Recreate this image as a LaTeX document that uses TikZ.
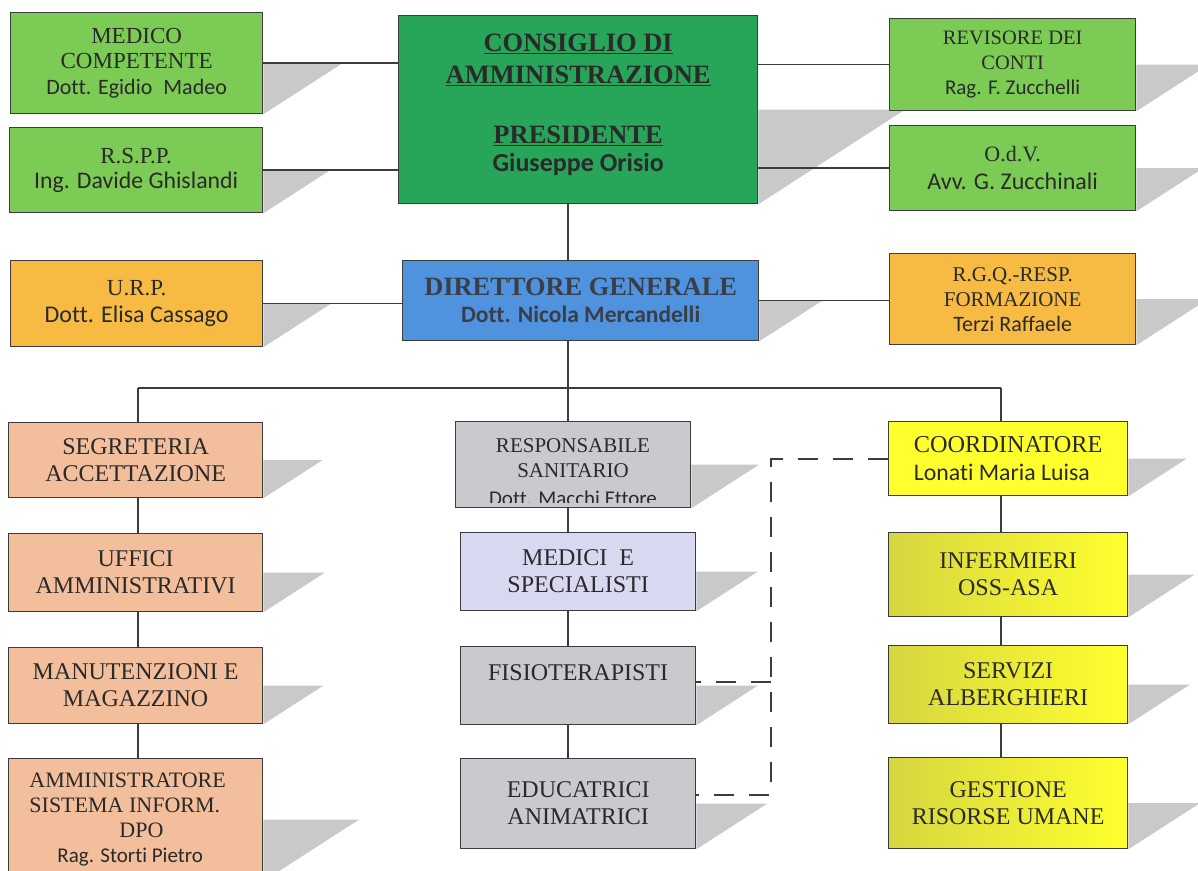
\documentclass[tikz,border=0pt]{standalone}
\usepackage{fontspec}
\setmainfont{Liberation Serif}
\newfontfamily\sansf[Ligatures={NoCommon}]{Carlito}
\usetikzlibrary{calc}
\pgfdeclarelayer{shadowlayer}
\pgfdeclarelayer{linelayer}
\pgfsetlayers{shadowlayer,linelayer,main}
\definecolor{linec}{HTML}{3C3C3C}
\definecolor{textc}{HTML}{2A2A2A}
\definecolor{shadowc}{HTML}{C9C9C9}
\definecolor{greenA}{HTML}{7CCB55}
\definecolor{greenB}{HTML}{27A65A}
\definecolor{orangeA}{HTML}{F7BA42}
\definecolor{blueA}{HTML}{4F92DE}
\definecolor{peachA}{HTML}{F2BE9C}
\definecolor{grayA}{HTML}{C9C9CE}
\definecolor{lavA}{HTML}{D8D8F0}
\definecolor{yelA}{HTML}{FFFF2E}
\definecolor{yelB}{HTML}{D6D640}
\definecolor{dgtext}{HTML}{3A3E48}
\newcommand\srz[2]{\fontsize{#1}{#2}\selectfont}
\newcommand\snf[1]{\sansf\fontsize{#1}{#1}\selectfont}
\newcommand\orgnode[7]{\node[orgbox,#6,minimum width={#4-#2},minimum height={#5-#3}] (#1) at (#2,#3) {#7};}
\newcommand\shd[1]{\fill[shadowc] let \p1=(#1.east), \p2=(#1.south east) in (\p1) -- ++({1.55*(\y1-\y2)},0pt) -- (\p2) -- cycle;}
\tikzset{
  orgbox/.style={draw=linec, line width=1.3pt, inner sep=0pt, align=center, text=textc, anchor=north west, font=\srz{24}{27}},
  boxtext/.style={inner sep=0pt, align=center, text=textc},
  yshade/.style={left color=yelB, right color=yelA},
  conn/.style={draw=linec, line width=1.6pt},
  dconn/.style={draw=linec, line width=1.8pt, dash pattern=on 20pt off 15pt},
}
\begin{document}
\begin{tikzpicture}[x=1pt,y=-1pt]
\useasboundingbox (0,0) rectangle (1198,870);
% top row
\orgnode{medico}{10}{12}{262}{113}{fill=greenA,font=\srz{23}{25.5}}{MEDICO\\COMPETENTE\\{\snf{22}Dott. Egidio\enspace Madeo}}
\orgnode{rspp}{9}{127}{262}{212}{fill=greenA,font=\srz{23}{25}}{R.S.P.P.\\{\snf{23.8}Ing. Davide Ghislandi}}
\orgnode{cda}{398}{15}{757}{203}{fill=greenB}{}
\node[boxtext, font=\bfseries\srz{26.5}{32}] (cdatext) at ($(cda.center)+(0,-5)$) {\underline{CONSIGLIO DI}\\\underline{AMMINISTRAZIONE}\\[28pt]\underline{PRESIDENTE}\\[-4pt]{\snf{26}\bfseries Giuseppe Orisio}};
\orgnode{revisore}{889}{18}{1135}{110}{fill=greenA,font=\srz{20.5}{25}}{REVISORE DEI\\CONTI\\{\snf{21}Rag. F. Zucchelli}}
\orgnode{odv}{889}{125}{1135}{210}{fill=greenA,font=\srz{22}{28}}{O.d.V.\\{\snf{24}Avv. G. Zucchinali}}
% second row
\orgnode{urp}{10}{260}{262}{346}{fill=orangeA,font=\srz{23}{27}}{U.R.P.\\{\snf{24}Dott. Elisa Cassago}}
\orgnode{dg}{402}{260}{758}{340}{fill=blueA,text=dgtext}{{\bfseries\srz{26.4}{27}DIRETTORE GENERALE}\\{\snf{23.5}\bfseries Dott. Nicola Mercandelli}}
\orgnode{rgq}{889}{253}{1135}{344}{fill=orangeA,font=\srz{21}{25}}{R.G.Q.-RESP.\\FORMAZIONE\\{\snf{22}Terzi Raffaele}}
% left column
\orgnode{segr}{8}{422}{262}{497}{fill=peachA}{SEGRETERIA\\ACCETTAZIONE}
\orgnode{uffici}{8}{533}{262}{611}{fill=peachA}{UFFICI\\AMMINISTRATIVI}
\orgnode{manut}{8}{647}{262}{723}{fill=peachA}{MANUTENZIONI E\\MAGAZZINO}
\orgnode{ammin}{8}{758}{262}{880}{fill=peachA,align=left,font=\srz{22}{25}}{AMMINISTRATORE\rule{16pt}{0pt}\\SISTEMA INFORM.\\\hspace*{90pt}DPO\\\hspace*{28pt}{\snf{21}Rag. Storti Pietro}}
% middle column
\orgnode{resp}{455}{421}{690}{507}{fill=grayA}{}
\begin{scope}
\clip (455,421) rectangle (690,502);
\node[boxtext, font=\srz{21}{25}, anchor=north] (resptext) at (573,438) {RESPONSABILE\\SANITARIO\\[3pt]{\snf{21}Dott. Macchi Ettore}};
\end{scope}
\orgnode{medici}{460}{532}{695}{610}{fill=lavA}{MEDICI\enspace E\\SPECIALISTI}
\orgnode{fisio}{460}{646}{695}{724}{fill=grayA}{FISIOTERAPISTI\\\mbox{}}
\orgnode{edu}{460}{758}{695}{848}{fill=grayA}{EDUCATRICI\\ANIMATRICI}
% right column
\orgnode{coord}{888}{421}{1127}{495}{fill=yelA,align=left,font=\srz{24.3}{28}}{COORDINATORE\\{\snf{23.8}Lonati Maria Luisa}}
\orgnode{inferm}{888}{532}{1127}{616}{yshade}{INFERMIERI\\OSS-ASA}
\orgnode{servizi}{888}{645}{1127}{723}{yshade}{SERVIZI\\ALBERGHIERI}
\orgnode{gestione}{888}{757}{1127}{848}{yshade}{GESTIONE\\RISORSE UMANE}
% coordinates
\coordinate (spine) at (568,0);
\coordinate (busl) at (138,388);
\coordinate (busm) at (568,388);
\coordinate (busr) at (1001,388);
\coordinate (dj) at (771,0);
\coordinate (dfis) at (771,682);
\coordinate (dedu) at (771,795);
% shadows
\begin{pgfonlayer}{shadowlayer}
\foreach \bx in {medico,rspp,cda,revisore,odv,urp,dg,rgq,segr,uffici,manut,ammin,resp,medici,fisio,edu,coord,inferm,servizi,gestione}{\shd{\bx}}
\end{pgfonlayer}
% connectors
\begin{pgfonlayer}{linelayer}
\draw[conn] (medico.east) -- (medico.east -| cda.west);
\draw[conn] (rspp.east) -- (rspp.east -| cda.west);
\draw[conn] (revisore.west) -- (revisore.west -| cda.east);
\draw[conn] (odv.west) -- (odv.west -| cda.east);
\draw[conn] (cda.south -| spine) -- (dg.north -| spine);
\draw[conn] (urp.east) -- (urp.east -| dg.west);
\draw[conn] (dg.east) -- (dg.east -| rgq.west);
\draw[conn] (dg.south -| spine) -- (busm);
\draw[conn] (busl) -- (busr);
\draw[conn] (busl) -- (segr.north -| busl);
\draw[conn] (busm) -- (resp.north -| busm);
\draw[conn] (busr) -- (coord.north -| busr);
\draw[conn] (segr.south -| busl) -- (uffici.north -| busl);
\draw[conn] (uffici.south -| busl) -- (manut.north -| busl);
\draw[conn] (manut.south -| busl) -- (ammin.north -| busl);
\draw[conn] (resp.south -| busm) -- (medici.north -| busm);
\draw[conn] (medici.south -| busm) -- (fisio.north -| busm);
\draw[conn] (fisio.south -| busm) -- (edu.north -| busm);
\draw[conn] (coord.south -| busr) -- (inferm.north -| busr);
\draw[conn] (inferm.south -| busr) -- (servizi.north -| busr);
\draw[conn] (servizi.south -| busr) -- (gestione.north -| busr);
\draw[dconn] (coord.west) -- (coord.west -| dj) -- (dedu) -- (dedu -| edu.east);
\draw[dconn] (dfis) -- (dfis -| fisio.east);
\end{pgfonlayer}
\end{tikzpicture}
\end{document}
